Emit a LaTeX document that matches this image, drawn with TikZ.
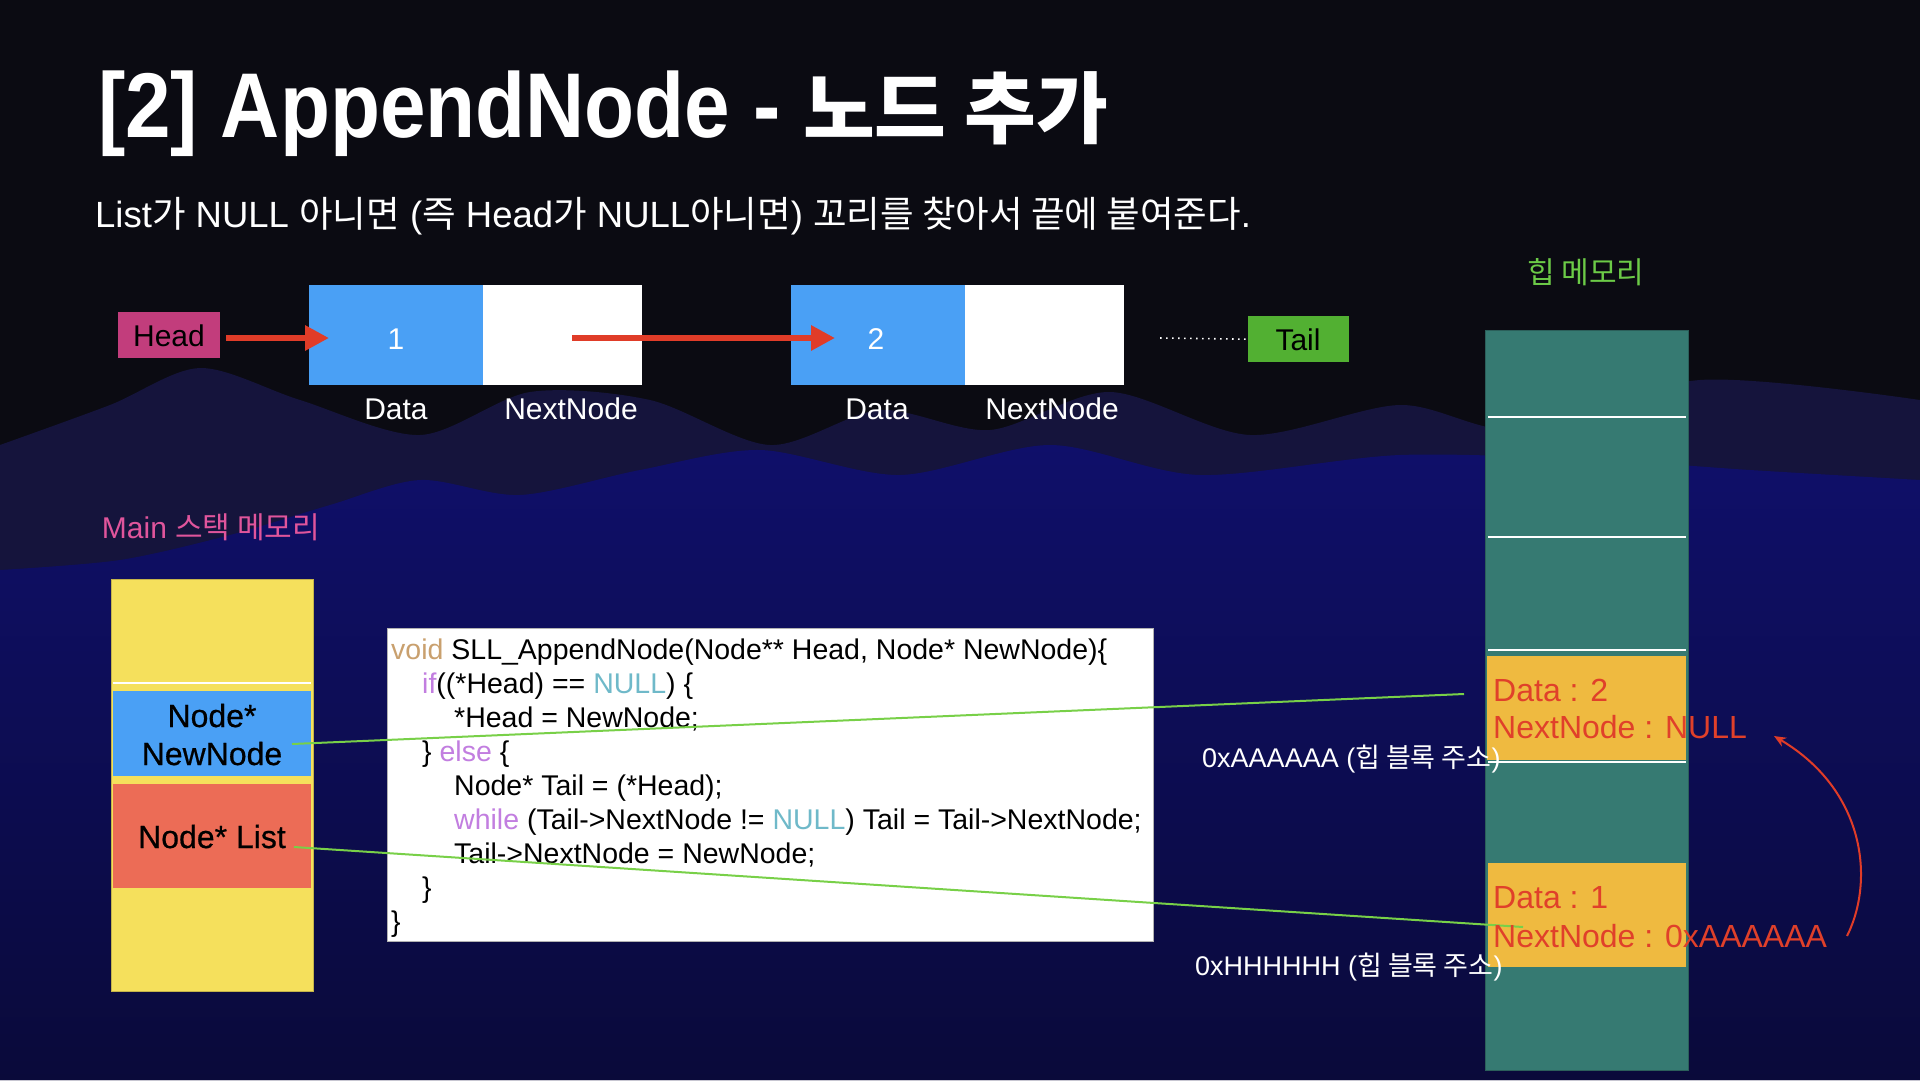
\documentclass[tikz,border=0pt]{standalone}
\usepackage{fontspec}
\setmainfont{Liberation Sans}
\newfontfamily\kr{Noto Sans CJK KR}
\newfontfamily\titlefont[FakeStretch=0.89]{Liberation Sans}
\newfontfamily\medfont[FakeBold=0.6]{Liberation Sans}
\usetikzlibrary{arrows.meta}
\definecolor{bgdark}{HTML}{0B0B12}
\definecolor{waveA}{HTML}{15143C}
\definecolor{waveTop}{HTML}{0F0F6A}
\definecolor{waveBot}{HTML}{0A0A3A}
\definecolor{headc}{HTML}{C23D7C}
\definecolor{tailc}{HTML}{52B032}
\definecolor{bluec}{HTML}{4AA0F5}
\definecolor{arrowred}{HTML}{E03C28}
\definecolor{heapc}{HTML}{367A72}
\definecolor{heapedge}{HTML}{2B5F5A}
\definecolor{orangec}{HTML}{EFBA40}
\definecolor{yellowc}{HTML}{F5E05C}
\definecolor{redbox}{HTML}{EC6C56}
\definecolor{textred}{HTML}{E0402A}
\definecolor{linegreen}{HTML}{78D048}
\definecolor{labelgreen}{HTML}{6CCB47}
\definecolor{labelpink}{HTML}{E0559C}
\definecolor{kwvoid}{HTML}{C9A06E}
\definecolor{kwp}{HTML}{C27EE0}
\definecolor{kwn}{HTML}{6FB9C9}
\tikzset{
  txt/.style={inner sep=0pt, anchor=base west},
  ctxt/.style={inner sep=0pt, anchor=base},
  lbl/.style={ctxt, text=white, font=\fontsize{30}{36}\selectfont},
  codeline/.style={txt, text=black, font=\fontsize{28.5}{34}\selectfont},
  heaptxt/.style={txt, text=textred, font=\fontsize{32}{38}\selectfont},
  stacktxt/.style={ctxt, text=black, font=\fontsize{32}{38}\selectfont\medfont},
  boxnode/.style={inner sep=0pt, anchor=north west},
  bigarrow/.style={draw=arrowred, line width=6pt, -{Triangle[length=24pt,width=24pt]}},
  ptrline/.style={draw=linegreen, line width=2pt},
  heapline/.style={draw=white, line width=2pt},
}
\begin{document}
\begin{tikzpicture}[x=1pt,y=-1pt]
\useasboundingbox (0,0) rectangle (1920,1080);
% background
\fill[bgdark] (0,0) rectangle (1920,1080);
\fill[waveA] plot[smooth] coordinates {(0,445) (110,405) (200,368) (300,400) (420,435) (530,392) (650,400) (770,445) (880,410) (990,430) (1110,392) (1250,435) (1400,405) (1520,430) (1700,380) (1920,400)} -- (1920,1080) -- (0,1080) -- cycle;
\shade[top color=waveTop, bottom color=waveBot] plot[smooth] coordinates {(0,570) (120,560) (230,535) (330,505) (420,480) (520,495) (640,470) (760,450) (900,475) (1050,445) (1200,475) (1400,455) (1600,460) (1750,470) (1920,480)} -- (1920,1080) -- (0,1080) -- cycle;

% title and subtitle
\node[txt, text=white] (title) at (98,137) {\fontsize{92}{100}\selectfont\titlefont\bfseries [2] AppendNode - {\fontsize{78}{90}\selectfont\kr\bfseries 노드 추가}};
\node[txt, text=white] (subtitle) at (95,227) {\fontsize{36.5}{42}\selectfont List{\kr 가} NULL {\kr 아니면} ({\kr 즉} Head{\kr 가} NULL{\kr 아니면}) {\kr 꼬리를 찾아서 끝에 붙여준다}.};

% linked list
\node[boxnode, fill=headc, minimum width=102pt, minimum height=46pt] (head) at (118,312) {};
\node[ctxt, font=\fontsize{30}{36}\selectfont] (headtxt) at (169,346) {Head};
\node[boxnode, fill=bluec, minimum width=174pt, minimum height=100pt] (n1d) at (309,285) {};
\node[boxnode, fill=white, minimum width=159pt, minimum height=100pt] (n1n) at (483,285) {};
\node[boxnode, fill=bluec, minimum width=174pt, minimum height=100pt] (n2d) at (791,285) {};
\node[boxnode, fill=white, minimum width=159pt, minimum height=100pt] (n2n) at (965,285) {};
\node[lbl] (one) at (396,349) {1};
\node[lbl] (two) at (876,349) {2};
\node[lbl] (d1) at (396,419) {Data};
\node[lbl] (nn1) at (571,419) {NextNode};
\node[lbl] (d2) at (877,419) {Data};
\node[lbl] (nn2) at (1052,419) {NextNode};
\node[boxnode, fill=tailc, minimum width=101pt, minimum height=46pt] (tail) at (1248,316) {};
\node[ctxt, font=\fontsize{30}{36}\selectfont] (tailtxt) at (1298,350) {Tail};
\coordinate (a1s) at (226,338);
\coordinate (a1e) at (329,338);
\coordinate (a2s) at (572,338);
\coordinate (a2e) at (835,338);
\coordinate (dots) at (1160,338);
\draw[bigarrow] (a1s) -- (a1e);
\draw[bigarrow] (a2s) -- (a2e);
\draw[white, line width=1.6pt, dash pattern=on 1.6pt off 4.4pt] (dots) -- (tail.west);

% heap memory
\node[ctxt, text=labelgreen, font=\fontsize{30}{36}\selectfont\kr] (heaplbl) at (1586,283) {힙 메모리};
\node[boxnode, fill=heapc, draw=heapedge, line width=1pt, minimum width=203pt, minimum height=740pt] (heap) at (1485,330) {};
\draw[heapline] (1488,417) -- (1686,417);
\draw[heapline] (1488,537) -- (1686,537);
\draw[heapline] (1488,650) -- (1686,650);
\draw[heapline] (1488,762) -- (1686,762);
\node[boxnode, fill=orangec, minimum width=199pt, minimum height=104pt] (blk2) at (1487,656) {};
\node[boxnode, fill=orangec, minimum width=198pt, minimum height=104pt] (blk1) at (1488,863) {};

% stack
\node[ctxt, text=labelpink, font=\fontsize{30}{36}\selectfont] (stacklbl) at (211,538) {Main {\kr 스택 메모리}};
\node[boxnode, fill=yellowc, draw=yellowc!80!black, line width=0.5pt, minimum width=202pt, minimum height=412pt] (stack) at (111,579) {};
\draw[heapline] (113,683) -- (311,683);
\node[boxnode, fill=bluec, minimum width=198pt, minimum height=85pt] (nnbox) at (113,691) {};
\node[boxnode, fill=redbox, minimum width=198pt, minimum height=104pt] (listbox) at (113,784) {};
\node[stacktxt] (nnt1) at (212,727) {Node*};
\node[stacktxt] (nnt2) at (212,765) {NewNode};
\node[stacktxt] (listt) at (212,848) {Node* List};

% code box
\node[boxnode, fill=white, draw=gray!60, line width=1pt, minimum width=766pt, minimum height=313pt] (code) at (387,628) {};
\node[codeline] (c1) at (391,659) {{\color{kwvoid}void} SLL\_AppendNode(Node** Head, Node* NewNode)\{};
\node[codeline] (c2) at (422,693) {{\color{kwp}if}((*Head) == {\color{kwn}NULL}) \{};
\node[codeline] (c3) at (454,727) {*Head = NewNode;};
\node[codeline] (c4) at (422,761) {\} {\color{kwp}else} \{};
\node[codeline] (c5) at (454,795) {Node* Tail = (*Head);};
\node[codeline] (c6) at (454,829) {{\color{kwp}while} (Tail->NextNode != {\color{kwn}NULL}) Tail = Tail->NextNode;};
\node[codeline] (c7) at (454,863) {Tail->NextNode = NewNode;};
\node[codeline] (c8) at (422,897) {\}};
\node[codeline] (c9) at (391,931) {\}};

% pointer lines
\coordinate (pnew) at (292,744);
\coordinate (paddr2) at (1464,694);
\coordinate (plist) at (294,847);
\coordinate (paddr1) at (1523,927);
\draw[ptrline] (pnew) -- (paddr2);
\draw[ptrline] (plist) -- (paddr1);

% heap texts
\node[heaptxt] (h2a) at (1493,701) {Data : 2};
\node[heaptxt] (h2b) at (1493,738) {NextNode : NULL};
\node[heaptxt] (h1a) at (1493,908) {Data : 1};
\node[heaptxt] (h1b) at (1493,947) {NextNode : 0xAAAAAA};

% address labels
\node[txt, text=white, font=\fontsize{27}{32}\selectfont] (addrA) at (1202,767) {0xAAAAAA ({\kr 힙 블록 주소})};
\node[txt, text=white, font=\fontsize{27}{32}\selectfont] (addrH) at (1195,975) {0xHHHHHH ({\kr 힙 블록 주소})};

% curved arrow
\coordinate (arcs) at (1847,936);
\coordinate (arce) at (1774,736);
\draw[arrowred, line width=2pt, -{Stealth[length=12pt,width=10pt]}] (arcs) .. controls (1875,880) and (1865,790) .. (arce);
\end{tikzpicture}
\end{document}
